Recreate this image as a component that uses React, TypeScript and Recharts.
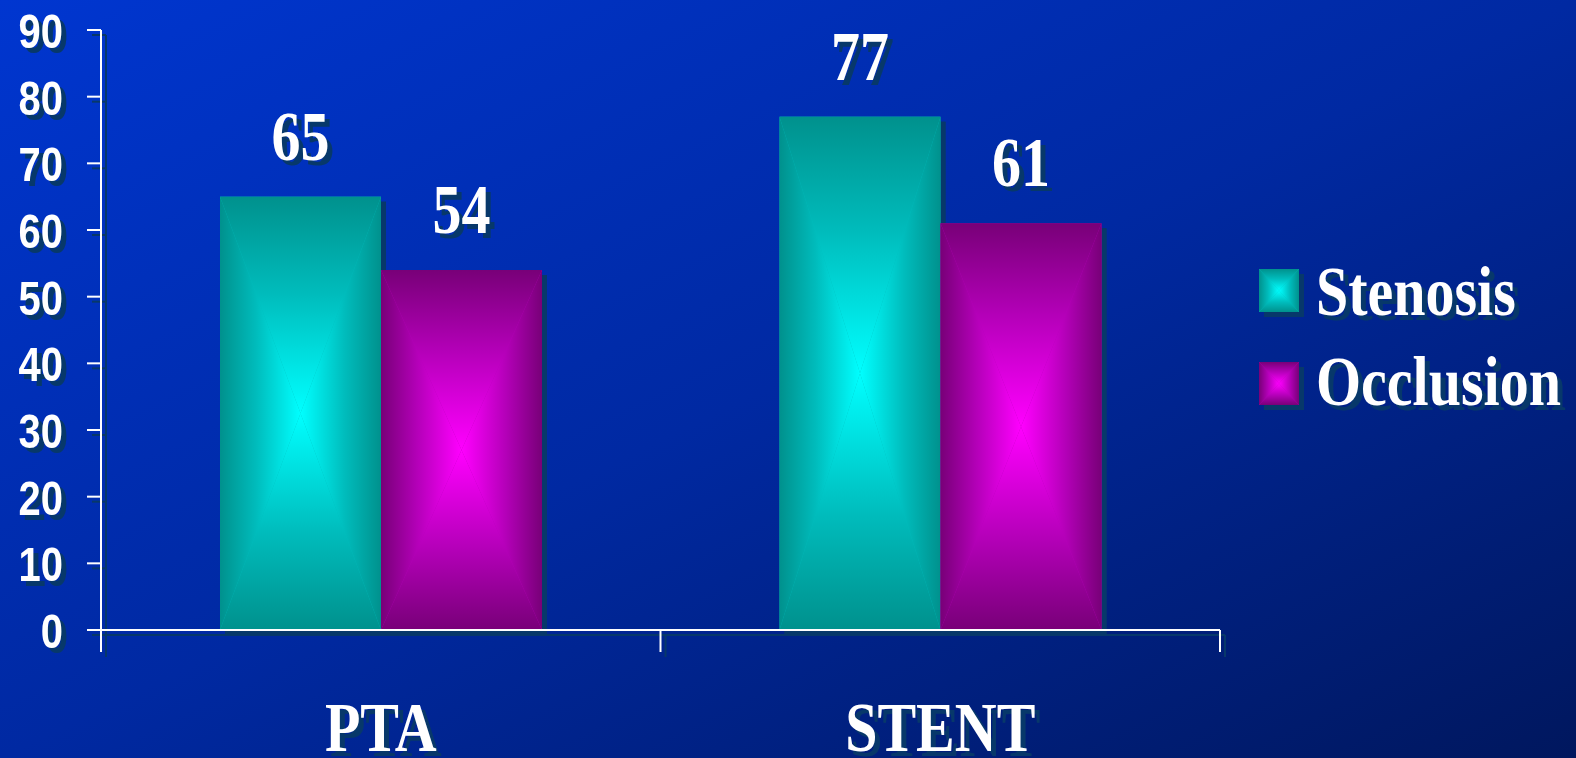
import React from 'react';
import { BarChart, Bar, XAxis, YAxis, LabelList, Legend } from 'recharts';

// ---- data ----
const categories = ['PTA', 'STENT'];
const stenosisValues = [65, 77];
const occlusionValues = [54, 61];
const seriesNames = ['Stenosis', 'Occlusion'];
const yTicks = [0, 10, 20, 30, 40, 50, 60, 70, 80, 90];

const data = categories.map((category, i) => ({
  category,
  stenosis: stenosisValues[i],
  occlusion: occlusionValues[i],
}));

// ---- layout / style ----
const W = 1576;
const H = 758;
const MARGIN = { top: 30, right: 356, bottom: 0, left: 0 };
const Y_AXIS_W = 101;
const X_AXIS_H = 128;
const PLOT_W = W - MARGIN.left - MARGIN.right - Y_AXIS_W;
const X_TICK = 22;
const STRETCH = 1.22;
const SHADOW = '#07386a';
const SERIF = '"Liberation Serif", "Times New Roman", serif';
const SANS = '"Liberation Sans", Arial, sans-serif';

const palettes = [
  { key: 'st', edge: '#00918d', mid: '#00bcbc', center: '#00ffff' },
  { key: 'oc', edge: '#780078', mid: '#b400b8', center: '#ff00ff' },
];

// four linear gradients that together give a rectangular "from centre" shading
function GradDefs({ prefix, p }: { prefix: string; p: any }) {
  const stops = [
    <stop key="a" offset="0" stopColor={p.edge} />,
    <stop key="b" offset="0.45" stopColor={p.mid} />,
    <stop key="c" offset="1" stopColor={p.center} />,
  ];
  return (
    <>
      <linearGradient id={`${prefix}-t`} x1="0" y1="0" x2="0" y2="1">{stops}</linearGradient>
      <linearGradient id={`${prefix}-b`} x1="0" y1="1" x2="0" y2="0">{stops}</linearGradient>
      <linearGradient id={`${prefix}-l`} x1="0" y1="0" x2="1" y2="0">{stops}</linearGradient>
      <linearGradient id={`${prefix}-r`} x1="1" y1="0" x2="0" y2="0">{stops}</linearGradient>
    </>
  );
}

function RectGradient({ x, y, width, height, prefix, base }: any) {
  if (!width || !height) return null;
  const cx = x + width / 2;
  const cy = y + height / 2;
  const x2 = x + width;
  const y2 = y + height;
  return (
    <g>
      <rect x={x} y={y} width={width} height={height} fill={base} />
      <polygon points={`${x},${y} ${x2},${y} ${cx},${cy}`} fill={`url(#${prefix}-t)`} />
      <polygon points={`${x},${y2} ${x2},${y2} ${cx},${cy}`} fill={`url(#${prefix}-b)`} />
      <polygon points={`${x},${y} ${x},${y2} ${cx},${cy}`} fill={`url(#${prefix}-l)`} />
      <polygon points={`${x2},${y} ${x2},${y2} ${cx},${cy}`} fill={`url(#${prefix}-r)`} />
    </g>
  );
}

const ValueLabel = (props: any) => {
  const vb = props.viewBox && props.viewBox.width != null ? props.viewBox : props;
  const cx = vb.x + vb.width / 2;
  return (
    <text
      transform={`translate(${cx},${vb.y - 37}) scale(1,${STRETCH})`}
      textAnchor="middle"
      fontFamily={SERIF}
      fontWeight={700}
      fontSize={58}
      fill="#ffffff"
    >
      {props.value}
    </text>
  );
};

const YTick = ({ x, y, payload }: any) => (
  <text
    transform={`translate(${x},${y + 18}) scale(1,${STRETCH})`}
    textAnchor="end"
    fontFamily={SANS}
    fontWeight={700}
    fontSize={40}
    fill="#ffffff"
  >
    {payload.value}
  </text>
);

const XTick = ({ x, y, payload, index }: any) => {
  const half = PLOT_W / categories.length / 2;
  const top = y - X_TICK;
  return (
    <g>
      <line x1={x - half} x2={x - half} y1={top} y2={y} stroke="#ffffff" strokeWidth={2} />
      {index === categories.length - 1 && (
        <line x1={x + half} x2={x + half} y1={top} y2={y} stroke="#ffffff" strokeWidth={2} />
      )}
      <text
        transform={`translate(${x},${y + 99}) scale(1,${STRETCH})`}
        textAnchor="middle"
        fontFamily={SERIF}
        fontWeight={700}
        fontSize={58}
        fill="#ffffff"
      >
        {payload.value}
      </text>
    </g>
  );
};

const LegendContent = () => (
  <svg width={326} height={170} style={{ overflow: 'visible', display: 'block' }}>
    <defs>
      {palettes.map((p) => (
        <GradDefs key={p.key} prefix={`lg-${p.key}`} p={p} />
      ))}
    </defs>
    {seriesNames.map((name, i) => (
      <g key={name}>
        <RectGradient
          x={9}
          y={14 + i * 93}
          width={40}
          height={43}
          prefix={`lg-${palettes[i].key}`}
          base={palettes[i].mid}
        />
        <text
          transform={`translate(66,${60 + i * 90}) scale(1,${STRETCH})`}
          fontFamily={SERIF}
          fontWeight={700}
          fontSize={58}
          fill="#ffffff"
        >
          {name}
        </text>
      </g>
    ))}
  </svg>
);

export default function App() {
  return (
    <div
      style={{
        position: 'absolute',
        left: 0,
        top: 0,
        width: W,
        height: H,
        overflow: 'hidden',
        background: 'linear-gradient(to bottom right, #0036d0 0%, #0029a2 50%, #00175e 100%)',
      }}
    >
      <div style={{ width: W, height: H, filter: `drop-shadow(5px 5px 0 ${SHADOW})` }}>
        <BarChart width={W} height={H} data={data} margin={MARGIN} barGap={0}>
          <defs>
            {palettes.map((p) => (
              <GradDefs key={p.key} prefix={`bar-${p.key}`} p={p} />
            ))}
          </defs>
          <XAxis
            dataKey="category"
            height={X_AXIS_H}
            axisLine={{ stroke: '#ffffff', strokeWidth: 2 }}
            tickLine={false}
            tickSize={X_TICK}
            tickMargin={0}
            tick={<XTick />}
            interval={0}
          />
          <YAxis
            width={Y_AXIS_W}
            domain={[0, 90]}
            ticks={yTicks}
            interval={0}
            axisLine={{ stroke: '#ffffff', strokeWidth: 2 }}
            tickLine={{ stroke: '#ffffff', strokeWidth: 2 }}
            tickSize={14}
            tickMargin={24}
            tick={<YTick />}
          />
          <Legend
            layout="vertical"
            align="center"
            verticalAlign="middle"
            wrapperStyle={{ left: 1250, top: 255, width: 326, height: 170 }}
            content={<LegendContent />}
          />
          <Bar
            dataKey="stenosis"
            name={seriesNames[0]}
            fill={palettes[0].mid}
            barSize={161}
            isAnimationActive={false}
            shape={(p: any) => <RectGradient {...p} prefix="bar-st" base={palettes[0].mid} />}
          >
            <LabelList dataKey="stenosis" position="top" content={<ValueLabel />} />
          </Bar>
          <Bar
            dataKey="occlusion"
            name={seriesNames[1]}
            fill={palettes[1].mid}
            barSize={161}
            isAnimationActive={false}
            shape={(p: any) => <RectGradient {...p} prefix="bar-oc" base={palettes[1].mid} />}
          >
            <LabelList dataKey="occlusion" position="top" content={<ValueLabel />} />
          </Bar>
        </BarChart>
      </div>
    </div>
  );
}
